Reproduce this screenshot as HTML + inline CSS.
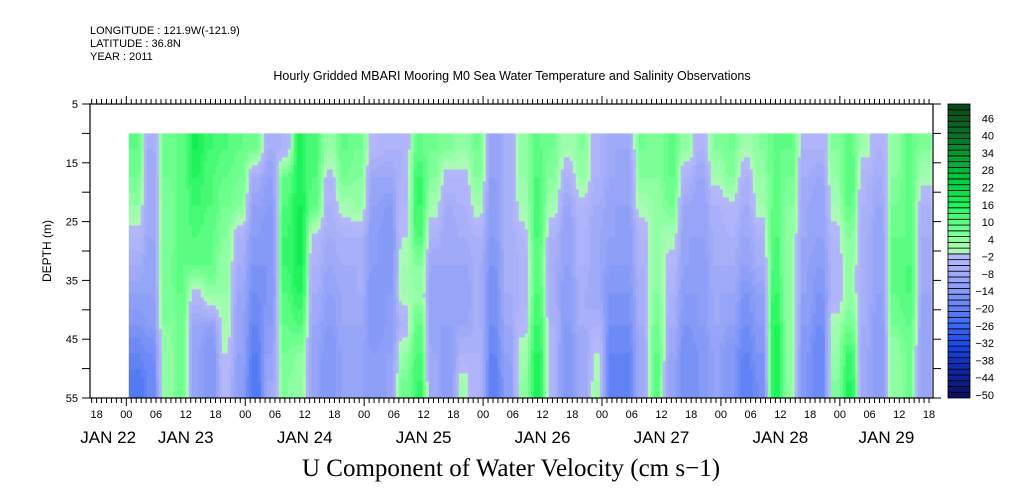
<!DOCTYPE html>
<html><head><meta charset="utf-8">
<style>
html,body{margin:0;padding:0;background:#fff;}
svg{display:block;font-family:"Liberation Sans",sans-serif;}
</style></head>
<body>
<svg id="chart" width="1009" height="504" viewBox="0 0 1009 504" xmlns="http://www.w3.org/2000/svg">
  <g font-size="11" fill="#000">
    <text x="90" y="34">LONGITUDE : 121.9W(-121.9)</text>
    <text x="90" y="47">LATITUDE : 36.8N</text>
    <text x="90" y="60">YEAR : 2011</text>
    <text x="512" y="80" text-anchor="middle" font-size="12.5">Hourly Gridded MBARI Mooring M0 Sea Water Temperature and Salinity Observations</text>
  </g>
  <g id="heat"></g>
  <g id="axes"></g>
  <g id="cbar"></g>
  <text transform="translate(51,251) rotate(-90)" text-anchor="middle" font-size="12">DEPTH (m)</text>
  <text x="511" y="476" text-anchor="middle" font-family="'Liberation Serif',serif" font-size="25">U Component of Water Velocity (cm s&#8722;1)</text>
</svg>
<script>
// ---- data ----
const depthEdges = [10,15,20,25,30,35,40,45,50,55];
const colStartHour = 0.5;   // hours after JAN 23 00:00
const colHours = 3;
const uColumns = [
[10,8,4,-2,-6,-10,-14,-18,-22],
[-6,-8,-8,-8,-10,-10,-12,-16,-18],
[8,8,6,6,8,6,6,4,4],
[10,10,10,10,10,10,8,8,8],
[18,16,14,12,10,-2,-8,-10,-10],
[14,12,12,10,10,4,-10,-14,-14],
[12,10,8,6,4,4,2,0,-2],
[10,8,6,-4,-6,-8,-10,-10,-12],
[8,-6,-10,-12,-14,-16,-18,-20,-22],
[-6,-10,-12,-14,-14,-14,-12,-10,-8],
[-4,10,12,14,14,12,10,8,6],
[16,16,18,18,18,16,12,6,4],
[12,12,10,-2,-4,-6,-8,-10,-10],
[4,-2,-4,-6,-8,-10,-12,-14,-14],
[10,8,2,-4,-6,-8,-8,-10,-10],
[8,6,4,-4,-6,-6,-8,-10,-10],
[-2,-8,-10,-12,-12,-14,-14,-12,-12],
[-4,-8,-12,-14,-14,-12,-12,-10,-10],
[-4,-4,-2,0,2,2,-4,4,8],
[10,14,14,12,6,4,10,12,14],
[8,6,2,-4,-8,-10,-10,-8,-8],
[6,-2,-6,-8,-8,-10,-10,-12,-12],
[4,-2,-4,-6,-8,-10,-8,-4,2],
[8,6,2,-4,-6,-6,-6,-4,-4],
[-10,-10,-12,-12,-14,-16,-16,-18,-20],
[-6,-6,-6,-6,-6,-6,-8,-10,-12],
[4,4,2,-2,-4,-4,-2,2,4],
[10,12,12,12,10,12,14,16,16],
[8,6,2,-4,-6,-6,-4,-4,-4],
[2,-4,-8,-10,-10,-12,-12,-14,-14],
[6,4,-2,-4,-4,-6,-6,-8,-8],
[-4,-4,-6,-8,-8,-8,-4,0,2],
[-8,-8,-10,-10,-12,-14,-16,-18,-20],
[-8,-10,-10,-12,-12,-14,-16,-18,-20],
[8,6,2,-4,-4,-6,-6,-8,-8],
[6,6,4,4,4,6,8,10,10],
[10,10,8,2,-2,-4,-6,-8,-10],
[4,-4,-8,-10,-10,-12,-14,-16,-16],
[-4,-8,-10,-10,-12,-12,-12,-14,-14],
[6,2,-4,-6,-6,-8,-8,-10,-10],
[8,6,-2,-4,-6,-8,-10,-14,-14],
[2,-4,-6,-8,-10,-14,-16,-18,-20],
[6,4,2,-4,-6,-10,-12,-14,-16],
[10,10,10,12,12,14,16,16,16],
[10,8,6,4,4,4,4,4,4],
[-4,-6,-8,-8,-10,-10,-12,-14,-14],
[-4,-8,-10,-10,-12,-14,-16,-18,-18],
[6,4,2,-2,-4,-4,2,4,6],
[10,12,10,6,4,4,8,14,16],
[2,-4,-4,-6,-6,-6,-6,-8,-8],
[-4,-6,-8,-10,-10,-10,-12,-12,-12],
[4,6,8,10,10,10,8,4,4],
[10,10,10,10,12,12,10,8,8],
[6,2,-4,-6,-8,-8,-10,-10,-10]
];
const depthTicks = [5,10,15,20,25,30,35,40,45,50,55];
const depthLabels = [5,15,25,35,45,55];
const hourLabels = ["18","00","06","12","18","00","06","12","18","00","06","12","18","00","06","12","18","00","06","12","18","00","06","12","18","00","06","12","18"];
const dayLabels = ["JAN 22","JAN 23","JAN 24","JAN 25","JAN 26","JAN 27","JAN 28","JAN 29"];
const cbarLevels = [-50,-44,-38,-32,-26,-20,-14,-8,-2,4,10,16,22,28,34,40,46];
const levelMin = -50, levelMax = 52, levelStep = 2;

// ---- axes ----
const NS = "http://www.w3.org/2000/svg";
const PL=90, PR=933, PT=104, PB=398;
const hMin = -7.33, hMax = 162.8;
function xH(h){ return PL + (h - hMin) / (hMax - hMin) * (PR - PL); }
function yD(d){ return PT + (d - 5) / 50 * (PB - PT); }
function mk(tag, attrs, parent){ const e=document.createElementNS(NS,tag); for(const k in attrs) e.setAttribute(k,attrs[k]); parent.appendChild(e); return e; }

const anchors = [
 [-50,[10,14,96]],[-40,[14,40,170]],[-32,[24,70,235]],[-26,[50,100,245]],[-20,[90,126,245]],
 [-14,[128,150,246]],[-8,[156,168,248]],[-2,[180,184,250]],[0,[178,248,186]],[4,[150,255,168]],[10,[100,255,136]],
 [18,[20,242,84]],[28,[0,190,60]],[40,[10,120,40]],[52,[8,70,22]]
];
function colorFor(v){
  let idx = Math.floor((v - levelMin)/levelStep);
  idx = Math.max(0, Math.min((levelMax-levelMin)/levelStep - 1, idx));
  const c = levelMin + idx*levelStep + levelStep/2;
  for(let i=0;i<anchors.length-1;i++){
    const [a,ca]=anchors[i],[b,cb]=anchors[i+1];
    if(c>=a && c<=b){
      if(a<0 && b>=0) return c<0 ? `rgb(${ca})` : `rgb(${cb})`;
      const t=(c-a)/(b-a);
      return `rgb(${ca.map((x,j)=>Math.round(x+(cb[j]-x)*t)).join(',')})`;
    }
  }
  return `rgb(${anchors[anchors.length-1][1]})`;
}

const heat = document.getElementById('heat');
const nC = uColumns.length, nR = depthEdges.length-1;
const depthCenters = depthEdges.slice(0,-1).map((d,i)=>(d+depthEdges[i+1])/2);
function sample(h, d){
  let ci = (h - colStartHour)/colHours - 0.5; ci=Math.max(0,Math.min(nC-1,ci));
  let ri = 0;
  for(let i=0;i<nR-1;i++) if(d>=depthCenters[i]) ri = i + Math.min(1,(d-depthCenters[i])/(depthCenters[i+1]-depthCenters[i]));
  if(d<depthCenters[0]) ri=0;
  const c0=Math.floor(ci), c1=Math.min(nC-1,c0+1), tc=ci-c0;
  const r0=Math.floor(ri), r1=Math.min(nR-1,r0+1), tr=ri-r0;
  const tcS = Math.max(0,Math.min(1,(tc-0.2)/0.6));
  const v0=uColumns[c0][r0]*(1-tr)+uColumns[c0][r1]*tr;
  const v1=uColumns[c1][r0]*(1-tr)+uColumns[c1][r1]*tr;
  return v0*(1-tcS)+v1*tcS;
}
const h0 = colStartHour, h1 = colStartHour + nC*colHours;
const x0=xH(h0), x1=xH(h1), y0=yD(depthEdges[0]), y1=yD(depthEdges[nR]);
const SX=3, SY=4;
for(let x=x0; x<x1; x+=SX){
  const h = hMin + ((x+SX/2)-PL)/(PR-PL)*(hMax-hMin);
  for(let y=y0; y<y1; y+=SY){
    const d = 5 + ((y+SY/2)-PT)/(PB-PT)*50;
    const r = mk('rect',{x:x.toFixed(2),y:y.toFixed(2),width:(Math.min(SX,x1-x)+0.3).toFixed(2),height:(Math.min(SY,y1-y)+0.3).toFixed(2),fill:colorFor(sample(h,d))},heat);
    
    
  }
}

const ax = document.getElementById('axes');
const frame = mk('rect',{x:PL,y:PT,width:PR-PL,height:PB-PT,fill:'none',stroke:'#000','stroke-width':1.2},ax);


for(let h=Math.ceil(hMin); h<=hMax; h++){
  const x=xH(h); const day = ((h%24)+24)%24===0; const len = day?8:5;
  const t1 = mk('line',{x1:x,x2:x,y1:PB,y2:PB+len,stroke:'#000','stroke-width':1},ax);
  
  
  const t2 = mk('line',{x1:x,x2:x,y1:PT,y2:PT-len,stroke:'#000','stroke-width':1},ax);
  
  
}
hourLabels.forEach((s,i)=>{
  const t = mk('text',{x:xH(-6+i*6),y:418,'text-anchor':'middle','font-size':11},ax);
  t.textContent=s;
  
  
});
dayLabels.forEach((s,i)=>{
  const a=Math.max(hMin,(i-1)*24), b=Math.min(hMax,i*24);
  const t = mk('text',{x:(xH(a)+xH(b))/2,y:443,'text-anchor':'middle','font-size':17},ax);
  t.textContent=s;
  
  
});
depthTicks.forEach(d=>{
  const y=yD(d);
  const t = mk('line',{x1:PL-8,x2:PL,y1:y,y2:y,stroke:'#000'},ax);
  
  
  const t2 = mk('line',{x1:PR,x2:PR+8,y1:y,y2:y,stroke:'#000'},ax);
  
  
});
depthLabels.forEach(d=>{
  const t = mk('text',{x:PL-12,y:yD(d)+4,'text-anchor':'end','font-size':11},ax);
  t.textContent=d;
  
  
});

const cb = document.getElementById('cbar');
const CBX=948, CBW=22, nLev=(levelMax-levelMin)/levelStep;
const boxH=(PB-PT)/nLev;
function yL(v){ return PB - (v-levelMin)/levelStep*boxH; }
for(let i=0;i<nLev;i++){
  const v=levelMin+i*levelStep;
  const r = mk('rect',{x:CBX,y:yL(v+levelStep),width:CBW,height:boxH,fill:colorFor(v+levelStep/2),stroke:'#000','stroke-width':0.8},cb);
  
  
}
cbarLevels.forEach(v=>{
  const t = mk('text',{x:994,y:yL(v)+1,'text-anchor':'end','font-size':11},cb);
  t.textContent = v<0 ? '\u2212'+(-v) : String(v);
  
  
});
</script>
</body></html>
